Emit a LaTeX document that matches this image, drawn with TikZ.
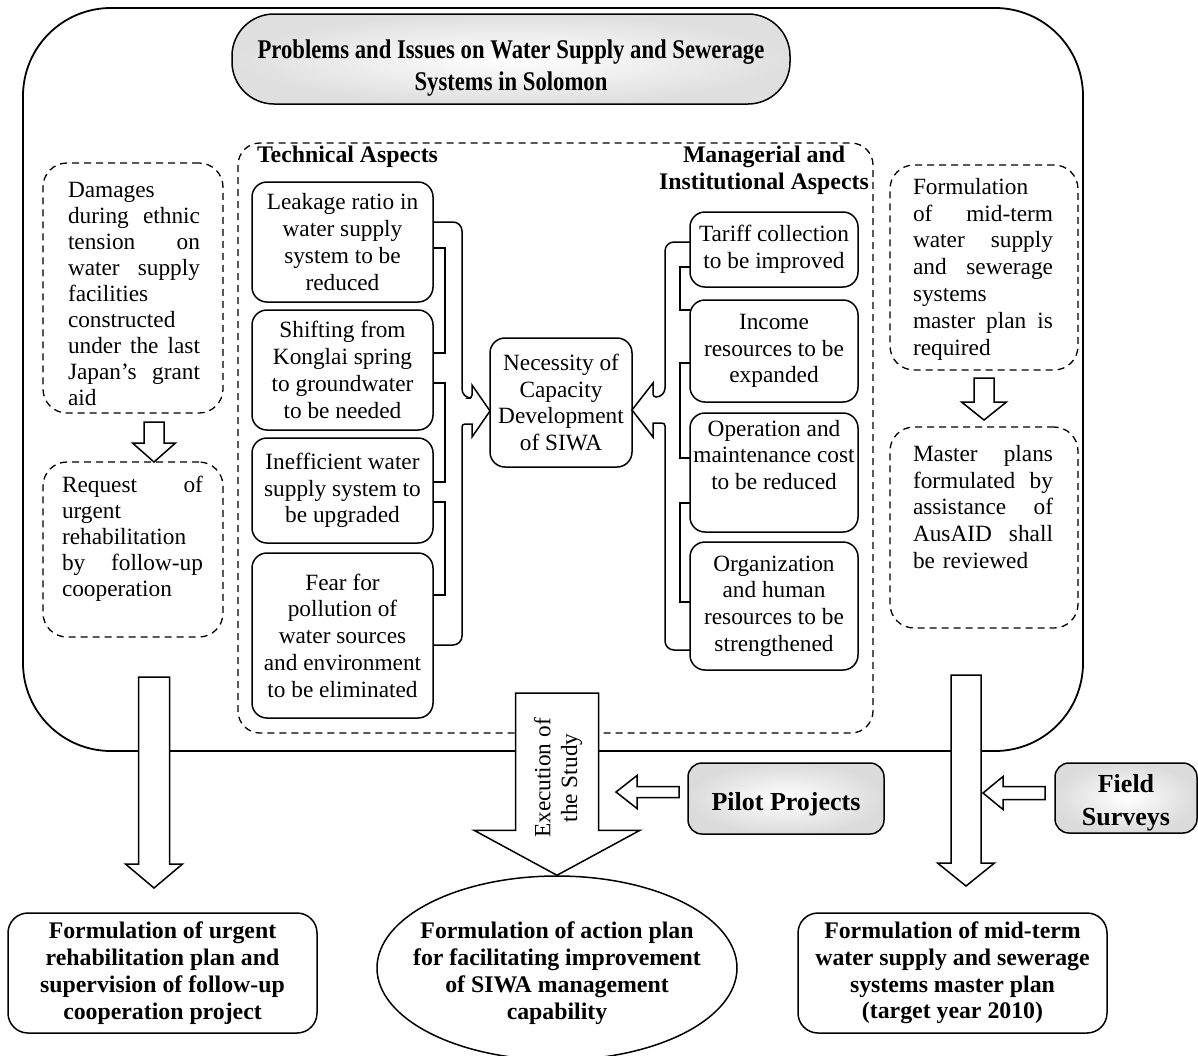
\documentclass[tikz,border=0pt]{standalone}
\usepackage{fontspec}
\setmainfont{Liberation Serif}
\newfontfamily\titlefont[FakeStretch=0.84]{Liberation Serif}
\usetikzlibrary{calc,shapes.geometric}

\newcommand\bodysize{\fontsize{23.3}{26.8}\selectfont}
\newcommand\boldsize{\fontsize{23.8}{26.8}\selectfont\bfseries}
% a fully justified line inside a left-aligned block
\newcommand\jl[1]{\makebox[\linewidth][s]{\spaceskip=.25em plus 1fil\relax #1}}

% hollow block arrow pointing down: top point, tip point, half shaft, half head, head length
\newcommand\downblock[5]{%
  \filldraw[blk] let \p1=(#1), \p2=(#2) in
  (\x2-#3pt,\y1) -- (\x2+#3pt,\y1) -- (\x2+#3pt,\y2+#5pt) -- (\x2+#4pt,\y2+#5pt)
  -- (\p2) -- (\x2-#4pt,\y2+#5pt) -- (\x2-#3pt,\y2+#5pt) -- cycle;}
% hollow block arrow pointing left: tail point, tip point, half shaft, half head, head length
\newcommand\leftblock[5]{%
  \filldraw[blk] let \p1=(#1), \p2=(#2) in
  (\x1,\y2+#3pt) -- (\x2+#5pt,\y2+#3pt) -- (\x2+#5pt,\y2+#4pt) -- (\p2)
  -- (\x2+#5pt,\y2-#4pt) -- (\x2+#5pt,\y2-#3pt) -- (\x1,\y2-#3pt) -- cycle;}

\tikzset{
  blk/.style={draw, fill=white, line width=1.5pt, line join=miter},
  tbox/.style={draw, line width=1.5pt, rounded corners=15pt, inner sep=0pt, outer sep=0pt,
    align=center, font=\bodysize},
  dbox/.style={draw, line width=1.3pt, dash pattern=on 7pt off 5pt, rounded corners=24pt,
    inner sep=0pt, outer sep=0pt},
  txt/.style={inner sep=0pt, font=\bodysize},
  jtxt/.style={inner sep=0pt, font=\fontsize{23.3}{26}\selectfont, align=left},
  goal/.style={draw, line width=1.5pt, rounded corners=20pt, inner sep=0pt, outer sep=0pt,
    align=center, font=\boldsize},
  gray box/.style={draw, line width=1.5pt, rounded corners=14pt, inner sep=0pt, outer sep=0pt,
    inner color=white, outer color=gray!28},
  input text/.style={inner sep=0pt, align=center, font=\fontsize{26}{33}\selectfont\bfseries},
  brace/.style={line width=1.5pt},
}

\begin{document}
\begin{tikzpicture}[x=1pt,y=-1pt]
\useasboundingbox (0,0) rectangle (1198,1055);

% frame of the problem area
\draw[line width=1.8pt, rounded corners=88pt] (23,8) rectangle (1083,751);
\draw[line width=1.3pt, dash pattern=on 7pt off 5pt, rounded corners=22pt] (238,143) rectangle (873,733);

% heading
\node[draw, line width=1.5pt, rounded corners=42pt, inner color=white, outer color=gray!25,
      minimum width=558pt, minimum height=90pt, inner sep=0pt] (head) at (511,59) {};
\node[align=center, inner sep=0pt, font=\titlefont\fontsize{27}{32}\selectfont\bfseries]
      at (511,68) {Problems and Issues on Water Supply and Sewerage\\Systems in Solomon};

% left column
\node[dbox, minimum width=180pt, minimum height=250pt] (dL1) at (133,288) {};
\node[jtxt, text width=132pt] at (134,294) {Damages\\\jl{during ethnic}\\\jl{tension on}\\
  \jl{water supply}\\facilities\\constructed\\\jl{under the last}\\\jl{Japan’s grant}\\aid};
\node[dbox, minimum width=180pt, minimum height=175pt] (dL2) at (133,549.5) {};
\node[jtxt, text width=141pt] at (132.5,539) {\jl{Request of}\\urgent\\rehabilitation\\
  \jl{by follow-up}\\cooperation};

% right column
\node[dbox, minimum width=188pt, minimum height=205pt] (dR1) at (984,267.5) {};
\node[jtxt, text width=140pt, font=\bodysize] at (983,269) {Formulation\\\jl{of mid-term}\\\jl{water supply}\\
  \jl{and sewerage}\\systems\\\jl{master plan is}\\required};
\node[dbox, minimum width=188pt, minimum height=201pt] (dR2) at (984,527.5) {};
\node[jtxt, text width=140pt, font=\bodysize] at (983,507) {\jl{Master plans}\\\jl{formulated by}\\
  \jl{assistance of}\\\jl{AusAID shall}\\be reviewed};

% technical aspects
\node[font=\boldsize, inner sep=0pt] at (347.5,157) {Technical Aspects};
\node[tbox, minimum width=181pt, minimum height=120pt] (t1) at (342.5,242)
  {Leakage ratio in\\water supply\\system to be\\reduced};
\node[tbox, minimum width=181pt, minimum height=120pt] (t2) at (342.5,370)
  {Shifting from\\Konglai spring\\to groundwater\\to be needed};
\node[tbox, minimum width=181pt, minimum height=105pt] (t3) at (342.5,490.5)
  {Inefficient water\\supply system to\\be upgraded};
\node[tbox, minimum width=181pt, minimum height=165pt] (t4) at (342.5,635.5)
  {Fear for\\pollution of\\water sources\\and environment\\to be eliminated};

% managerial and institutional aspects
\node[font=\boldsize, align=center, inner sep=0pt] at (764,170.5)
  {Managerial and\\Institutional Aspects};
\node[tbox, minimum width=168pt, minimum height=75pt] (m1) at (774,249.5)
  {Tariff collection\\to be improved};
\node[tbox, minimum width=168pt, minimum height=102pt] (m2) at (774,351)
  {Income\\resources to be\\expanded};
\node[tbox, minimum width=168pt, minimum height=119pt] (m3) at (774,472.5) {};
\node[txt, align=center] at ($(m3.north)+(0,42)$)
  {Operation and\\maintenance cost\\to be reduced};
\node[tbox, minimum width=168pt, minimum height=128pt] (m4) at (774,606)
  {Organization\\and human\\resources to be\\strengthened};

% core need
\node[tbox, minimum width=142pt, minimum height=129pt] (nb) at (561,402.5)
  {Necessity of\\Capacity\\Development\\of SIWA};

% links among the technical items
\draw[brace] (t1.east |- 0,248) -- (445,248) -- (445,353) -- (t2.east |- 0,353);
\draw[brace] (t2.east |- 0,383) -- (445,383) -- (445,482) -- (t3.east |- 0,482);
\draw[brace] (t3.east |- 0,502) -- (445,502) -- (445,595) -- (t4.east |- 0,595);
\draw[brace, line join=miter] (t1.east |- 0,222) [rounded corners=9pt] -- (462,222) -- (462,398)
  [rounded corners=3pt] -- (472,398) [sharp corners] -- (472,385) -- (nb.west |- 0,411)
  -- (472,437) -- (472,424) [rounded corners=3pt] -- (462,424)
  [rounded corners=9pt] -- (462,645) -- (t4.east |- 0,645);

% links among the managerial items
\draw[brace] (m1.west |- 0,267) -- (680,267) -- (680,310) -- (m2.west |- 0,310);
\draw[brace] (m2.west |- 0,363) -- (680,363) -- (680,458) -- (m3.west |- 0,458);
\draw[brace] (m3.west |- 0,503) -- (680,503) -- (680,602) -- (m4.west |- 0,602);
\draw[brace, line join=miter] (m1.west |- 0,242) [rounded corners=9pt] -- (665,242) -- (665,397)
  [rounded corners=3pt] -- (653,397) [sharp corners] -- (653,383) -- (nb.east |- 0,410)
  -- (653,437) -- (653,423) [rounded corners=3pt] -- (665,423)
  [rounded corners=9pt] -- (665,650) -- (m4.west |- 0,650);

% outcomes
\node[goal, minimum width=309pt, minimum height=120pt] (F1) at (162.5,973)
  {Formulation of urgent\\rehabilitation plan and\\supervision of follow-up\\cooperation project};
\node[draw, ellipse, line width=1.5pt, inner sep=0pt, minimum width=360pt, minimum height=184pt]
  (F2) at (557,968) {};
\node[inner sep=0pt, align=center, font=\boldsize] at ($(F2)+(0,5)$)
  {Formulation of action plan\\for facilitating improvement\\of SIWA management\\capability};
\node[goal, minimum width=309pt, minimum height=120pt] (F3) at (952.5,973)
  {Formulation of mid-term\\water supply and sewerage\\systems master plan\\(target year 2010)};

% inputs
\node[gray box, minimum width=196pt, minimum height=71pt] (pilot) at (786,798.5) {};
\node[input text] at ($(pilot)+(0,6)$) {Pilot Projects};
\node[gray box, minimum width=142pt, minimum height=70pt] (field) at (1126,798) {};
\node[input text] at ($(field)+(0,5)$) {Field\\Surveys};

% block arrows
\coordinate (sa1) at ($(dL1.south)+(21,9)$);
\coordinate (sa1tip) at ($(dL2.north)+(21,0)$);
\downblock{sa1}{sa1tip}{10}{21.5}{19}
\coordinate (sa2) at ($(dR1.south)+(0,8)$);
\coordinate (sa2tip) at ($(dR2.north)+(0,-7)$);
\downblock{sa2}{sa2tip}{10}{22.5}{18}

\coordinate (ba1) at (154,677);
\coordinate (ba1tip) at ($(F1.north)+(-8.5,-25)$);
\downblock{ba1}{ba1tip}{15.5}{28.5}{24}
\coordinate (ba2) at (557.5,693);
\coordinate (ba2tip) at (F2.north);
\downblock{ba2}{ba2tip}{41.5}{83}{45}
\coordinate (ba3) at (966,675);
\coordinate (ba3tip) at ($(F3.north)+(13.5,-27)$);
\downblock{ba3}{ba3tip}{15}{28.5}{23}

\coordinate (pa) at ($(pilot.west)+(-9,-6.5)$);
\coordinate (patip) at (616,792);
\leftblock{pa}{patip}{5.5}{16.5}{21}
\coordinate (fa) at ($(field.west)+(-10,-5)$);
\coordinate (fatip) at (983,793);
\leftblock{fa}{fatip}{6.5}{16.5}{20}

\node[txt, rotate=90, align=center] at (558,778) {Execution of\\the Study};
\end{tikzpicture}
\end{document}
